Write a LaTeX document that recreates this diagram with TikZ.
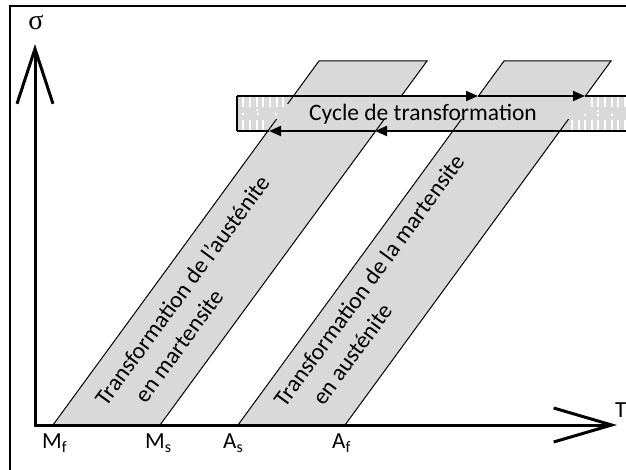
\documentclass[tikz,border=0pt]{standalone}
\usepackage{fontspec}
\setmainfont{Carlito}
\newfontfamily\symfont{Liberation Serif}
\usetikzlibrary{arrows.meta}
\definecolor{bandgray}{HTML}{D9D9D9}
\tikzset{
  band/.style={fill=bandgray, draw=black, line width=1pt, line join=miter},
  bandedge/.style={draw=black, line width=1pt},
  axisline/.style={line width=3pt, line join=miter},
  cycarrow/.style={line width=1.8pt, -{Triangle[length=12pt,width=10pt]}},
  cycline/.style={line width=1.8pt},
  stripe/.style={draw=white, line width=1.3pt},
  bandtext/.style={font=\fontsize{23.5}{30}\selectfont, rotate=53.8, inner sep=0pt, anchor=center, align=left},
  axlabel/.style={font=\fontsize{23}{24}\selectfont, inner sep=0pt, anchor=base west},
}
\newcommand{\subsc}[1]{{\fontsize{16}{16}\selectfont\raisebox{-4pt}{#1}}}
\begin{document}
\begin{tikzpicture}[x=1pt,y=-1pt]
\useasboundingbox (0,0) rectangle (626,470);
\clip (0,0) rectangle (626,470);
% outer frame
\draw[line width=2pt] (10,6) rectangle (650,490);
% key points
\coordinate (O) at (35,425);
\coordinate (Ytip) at (35,44);
\coordinate (Xtip) at (617,425);
\coordinate (Mf) at (53,425);
\coordinate (Ms) at (160,425);
\coordinate (As) at (238,425);
\coordinate (Af) at (345,425);
\coordinate (B1a) at (319,61);
\coordinate (B1b) at (427,61);
\coordinate (B2a) at (504,61);
\coordinate (B2b) at (611,61);
% bands
\path[band] (Mf) -- (B1a) -- (B1b) -- (Ms) -- cycle;
\path[band] (As) -- (B2a) -- (B2b) -- (Af) -- cycle;
% cycle box
\coordinate (boxTL) at (237,96);
\coordinate (boxTR) at (650,96);
\coordinate (boxBR) at (650,131);
\coordinate (boxBL) at (237,131);
\fill[bandgray] (boxTL) rectangle (boxBR);
\foreach \x in {243,250,257,263,270,277,283} \draw[stripe] (\x,97.5) -- (\x,107);
\foreach \x in {243,250,257,263} \draw[stripe] (\x,120) -- (\x,130);
\foreach \x in {592,598,605,612,618,625} \draw[stripe] (\x,97.5) -- (\x,107);
\foreach \x in {572,579,585,592,598,605,612,618,625} \draw[stripe] (\x,120) -- (\x,130);
\foreach \p in {(243,114),(257,110),(258,114),(276,114),(585,115),(598,111),(598,115),(612,115)}
  \fill[white] \p ++(-1,-1) rectangle ++(2,2);
% band edges visible inside the box
\begin{scope}
\clip (237,120) rectangle (650,131);
\draw[bandedge] (Mf) -- (B1a) (Ms) -- (B1b) (As) -- (B2a) (Af) -- (B2b);
\end{scope}
\begin{scope}
\clip (237,96) rectangle (300,104);
\draw[bandedge] (Mf) -- (B1a);
\end{scope}
% box outline and cycle arrows
\draw[cycline] (boxTL) -- (boxBL);
\coordinate (t1) at (478,96);
\coordinate (t2) at (585,96);
\coordinate (b1) at (375,131);
\coordinate (b2) at (269,131);
\draw[cycarrow] (boxTL) -- (t1);
\draw[cycarrow] (t1) -- (t2);
\draw[cycline] (t2) -- (boxTR);
\draw[cycarrow] (boxBR) -- (b1);
\draw[cycarrow] (b1) -- (b2);
\draw[cycline] (b2) -- (boxBL);
\node[font=\fontsize{23.5}{28}\selectfont, inner sep=0pt, anchor=base] (cyc) at (423,121) {Cycle de transformation};
% band texts
\node[bandtext] (txt1) at (194,299) {Transformation de l’austénite\\\hspace*{26pt}en martensite};
\node[bandtext] (txt2) at (381,289) {Transformation de la martensite\\\hspace*{24pt}en austénite};
% axes
\draw[axisline, {Straight Barb[length=55pt,width=36pt,line width=3pt]}-{Straight Barb[length=58pt,width=34pt,line width=3pt]}] (Ytip) -- (O) -- (Xtip);
% labels
\node[font=\symfont\fontsize{28}{28}\selectfont, inner sep=0pt, anchor=base] (sig) at (36,30) {σ};
\node[axlabel] (lT) at (615,417) {T};
\node[axlabel] (lMf) at (42,448) {M\subsc{f}};
\node[axlabel] (lMs) at (145,448) {M\subsc{s}};
\node[axlabel] (lAs) at (223,448) {A\subsc{s}};
\node[axlabel] (lAf) at (332,448) {A\subsc{f}};
\end{tikzpicture}
\end{document}
